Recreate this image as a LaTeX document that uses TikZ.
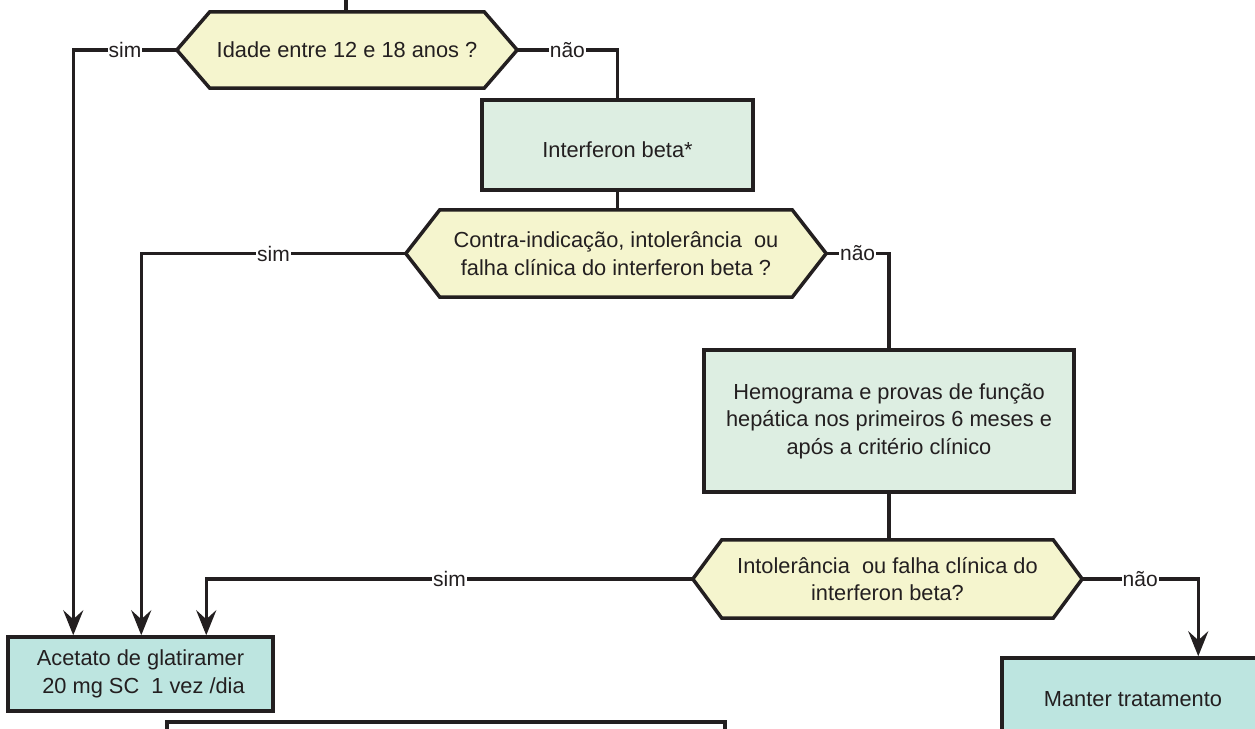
\documentclass[tikz,border=0pt]{standalone}
\usepackage{fontspec}
\setmainfont{Liberation Sans}
\usetikzlibrary{arrows.meta,calc}
\pgfdeclarelayer{bg}
\pgfsetlayers{bg,main}
\definecolor{ink}{HTML}{231F20}
\definecolor{decfill}{HTML}{F5F5CE}
\definecolor{procfill}{HTML}{DDEEE2}
\definecolor{endfill}{HTML}{BDE5E0}
\tikzset{
  every node/.style={text=ink, font=\fontsize{21.8}{27.5}\selectfont},
  proc/.style={draw=ink, line width=3.5pt, fill=procfill, align=center, inner sep=0pt},
  endbox/.style={draw=ink, line width=3.5pt, fill=endfill, align=center, inner sep=0pt},
  dec/.style={align=center, inner sep=0pt},
  hexline/.style={draw=ink, line width=3.5pt, fill=decfill, line join=miter},
  conn/.style={draw=ink, line width=3.5pt},
  arr/.style={conn, -{Stealth[length=25pt,width=20pt,inset=9pt]}},
  lbl/.style={fill=white, inner sep=1pt, font=\fontsize{21}{22}\selectfont}
}
\begin{document}
\begin{tikzpicture}[x=1pt,y=-1pt]
\useasboundingbox (0,0) rectangle (1255,728);
\clip (0,0) rectangle (1255,728);
% nodes
\node[dec, minimum width=340, minimum height=76] (d1) at (347,50) {Idade entre 12 e 18 anos ?};
\node[proc, minimum width=271, minimum height=90, text height=25pt, text depth=0pt] (intf) at (617.5,145) {Interferon beta*};
\node[dec, minimum width=420, minimum height=87] (d2) at (616,253.5) {Contra-indicação, intolerância\ \ ou\\falha clínica do interferon beta ?};
\node[proc, minimum width=370, minimum height=142] (hemo) at (889,421) {Hemograma e provas de função\\hepática nos primeiros 6 meses e\\após a critério clínico};
\node[dec, minimum width=389, minimum height=78] (d3) at (887.5,579) {Intolerância\ \ ou falha clínica do\\interferon beta?};
\node[endbox, minimum width=265, minimum height=74] (acet) at (140.5,674) {Acetato de glatiramer\\\ 20 mg SC\ \ 1 vez /dia};
\node[endbox, minimum width=262, minimum height=82] (mant) at (1133,699) {Manter tratamento};
\node[draw=ink, line width=3.5pt, fill=white, minimum width=558, minimum height=60, inner sep=0pt] (bottom) at (446,752) {};
% hexagon backgrounds
\begin{pgfonlayer}{bg}
\foreach \n/\c in {d1/33, d2/34, d3/29}{
  \path[hexline] (\n.west) -- ([xshift=\c]\n.north west) -- ([xshift=-\c]\n.north east)
    -- (\n.east) -- ([xshift=-\c]\n.south east) -- ([xshift=\c]\n.south west) -- cycle;
}
\end{pgfonlayer}
% connectors
\coordinate (topin) at (346,-5);
\draw[conn] (topin) -- (topin |- d1.north);
\draw[arr] (d1.west) -| node[lbl, pos=0.25] {sim} ($(acet.north west)+(67,0)$);
\draw[conn] (d1.east) -| node[lbl, pos=0.25] {não} (intf.north);
\draw[conn] (intf.south) -- (intf.south |- d2.north);
\draw[arr] (d2.west) -| node[lbl, pos=0.25] {sim} ($(acet.north west)+(135,0)$);
\draw[conn] (d2.east) -| node[lbl, pos=0.25] {não} (hemo.north);
\draw[conn] (hemo.south) -- (hemo.south |- d3.north);
\draw[arr] (d3.west) -| node[lbl, pos=0.25] {sim} ($(acet.north west)+(200,0)$);
\draw[arr] (d3.east) -| node[lbl, pos=0.25] {não} ($(mant.north west)+(198,0)$);
\end{tikzpicture}
\end{document}
